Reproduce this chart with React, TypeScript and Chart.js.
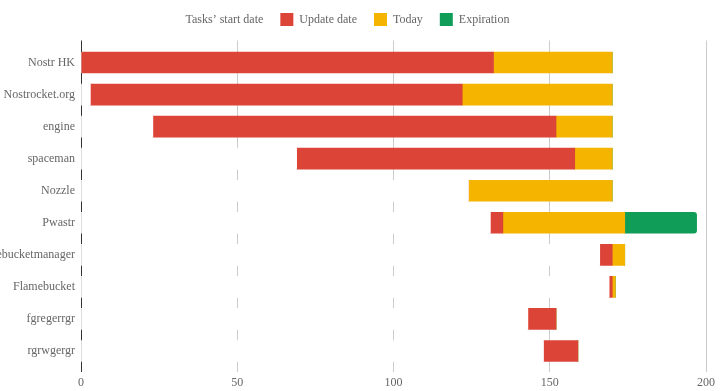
import React, { useEffect, useRef } from "react";
import { Chart, registerables } from "chart.js";

Chart.register(...registerables);

const categories = [
  "Nostr HK",
  "Nostrocket.org",
  "engine",
  "spaceman",
  "Nozzle",
  "Pwastr",
  "Flamebucketmanager",
  "Flamebucket",
  "fgregerrgr",
  "rgrwgergr",
];
// stacked segment lengths
const startValues = [0, 3, 23, 69, 124, 131, 166, 169, 143, 148];
const updateValues = [132, 119, 129, 89, 0, 4, 4, 1, 9, 11];
const todayValues = [38, 48, 18, 12, 46, 39, 4, 1, 0, 0];
const expirationValues = [0, 0, 0, 0, 0, 23, 0, 0, 0, 0];
const xTicks = [0, 50, 100, 150, 200];

const FONT = "'Liberation Serif', 'Times New Roman', serif";
const GRID = "#cccccc";
const ZERO = "#333333";

export default function App() {
  const ref = useRef<HTMLCanvasElement>(null);
  useEffect(() => {
    if (!ref.current) return;
    const gridColor = (ctx: any) => (ctx.tick && ctx.tick.value === 0 ? ZERO : GRID);
    const chart = new Chart(ref.current, {
      type: "bar",
      data: {
        labels: categories,
        datasets: [
          { label: "Tasks’ start date", data: startValues, backgroundColor: "#ffffff", borderColor: "#ffffff", borderWidth: 0 },
          { label: "Update date", data: updateValues, backgroundColor: "#DB4437" },
          { label: "Today", data: todayValues, backgroundColor: "#F4B400" },
          { label: "Expiration", data: expirationValues, backgroundColor: "#0F9D58", borderRadius: 3 },
        ],
      },
      plugins: [
        {
          id: "legendTweak",
          beforeInit(c: any) {
            const legend = c.legend;
            const origFit = legend.fit;
            legend.fit = function () {
              origFit.call(this);
              this.height += 0.5;
            };
            const origDraw = legend.draw;
            legend.draw = function () {
              const ctx = this.ctx;
              ctx.save();
              ctx.translate(-15, -4);
              origDraw.call(this);
              ctx.restore();
            };
          },
        },
      ],
      options: {
        indexAxis: "y",
        animation: false,
        responsive: true,
        maintainAspectRatio: false,
        layout: { padding: { left: 0, right: 17, top: 0, bottom: 0 } },
        datasets: { bar: { barThickness: 21 } } as any,
        scales: {
          x: {
            stacked: true,
            min: 0,
            max: 200,
            afterBuildTicks: (s: any) => { s.ticks = xTicks.map((v) => ({ value: v })); },
            grid: { color: gridColor, tickColor: gridColor, tickLength: 5 },
            border: { display: false },
            ticks: { color: "#666", font: { family: FONT, size: 12 }, padding: 4 },
            afterFit: (s: any) => { s.height = 24; },
          },
          x2: {
            axis: "x",
            position: "top",
            min: 0,
            max: 200,
            afterBuildTicks: (s: any) => { s.ticks = xTicks.map((v) => ({ value: v })); },
            grid: { drawOnChartArea: false, color: gridColor, tickColor: gridColor, tickLength: 6 },
            border: { display: false },
            ticks: { display: false },
          } as any,
          y: {
            stacked: true,
            grid: { display: false, drawTicks: false },
            border: { display: false },
            ticks: { color: "#666", font: { family: FONT, size: 12 }, padding: 6 },
            afterFit: (s: any) => { s.width = 81; },
          },
        },
        plugins: {
          legend: {
            position: "top",
            labels: { boxWidth: 13, boxHeight: 13, color: "#666", font: { family: FONT, size: 12 }, padding: 17 },
          },
          tooltip: { enabled: false },
        },
      } as any,
    });
    return () => chart.destroy();
  }, []);
  return (
    <div style={{ position: "absolute", left: 0, top: 0, width: 723, height: 391, background: "#fff" }}>
      <canvas ref={ref} />
    </div>
  );
}
